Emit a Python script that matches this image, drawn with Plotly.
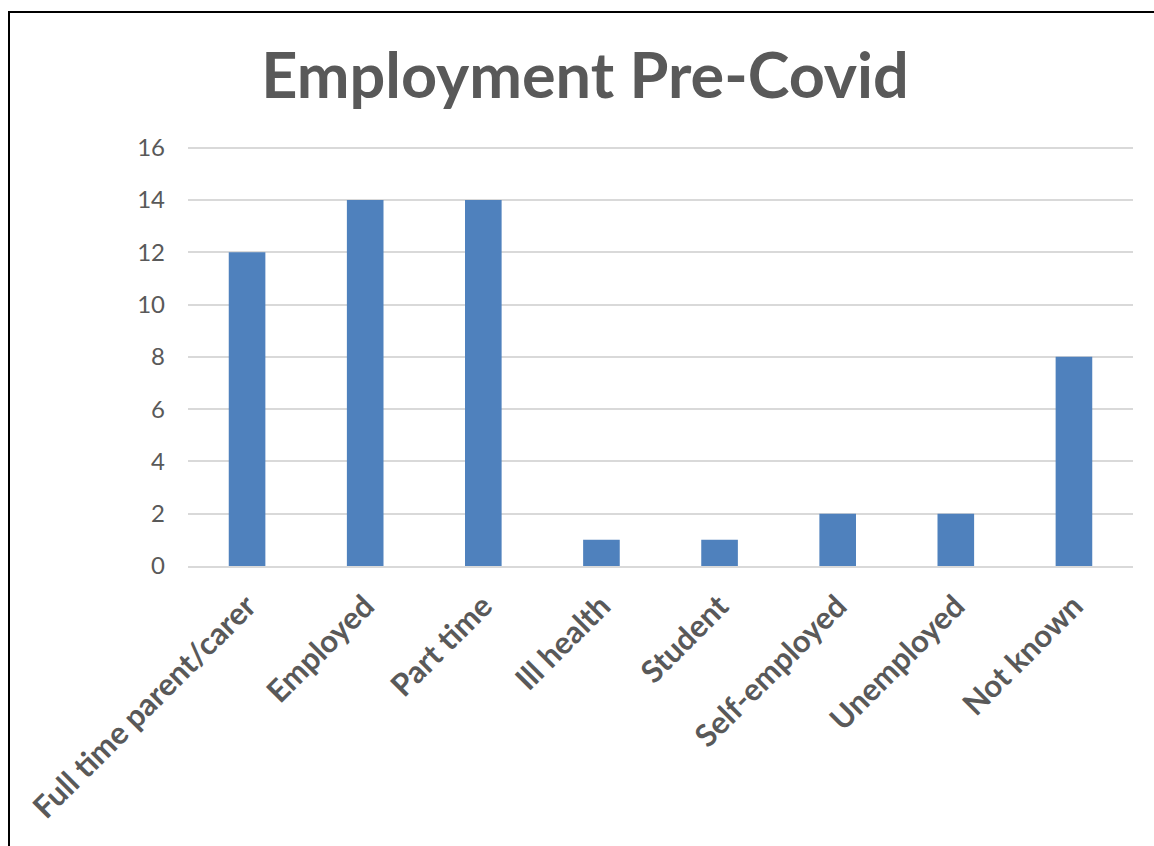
import plotly.graph_objects as go

categories = ["Full time parent/carer", "Employed", "Part time", "Ill health",
              "Student", "Self-employed", "Unemployed", "Not known"]
values = [12, 14, 14, 1, 1, 2, 2, 8]
y_ticks = [0, 2, 4, 6, 8, 10, 12, 14, 16]
y_max = 16.1

W, H = 1154, 846
L, R, B = 188, 21, 280
T = round((H - B) - 418 * y_max / 16)
pw, ph = W - L - R, H - T - B

def px_x(x):
    return (x - L) / pw

def px_y(y):
    return (H - B - y) / ph

fig = go.Figure(go.Bar(
    x=categories, y=values,
    marker=dict(color="#4F81BD", line=dict(width=0)),
    hoverinfo="x+y",
))

fig.update_layout(
    width=W, height=H,
    margin=dict(l=L, r=R, t=T, b=B),
    paper_bgcolor="white", plot_bgcolor="white",
    bargap=0.69,
    showlegend=False,
    title=dict(text="<b>Employment Pre-Covid</b>", xref="container", x=585 / W,
               xanchor="center", yref="container", y=1 - 76 / H, yanchor="middle",
               font=dict(family="Lato", size=63, color="#595959")),
    font=dict(family="Lato", color="#595959"),
    shapes=[dict(type="rect", xref="paper", yref="paper",
                 x0=px_x(9), x1=px_x(1170), y0=px_y(870), y1=px_y(12),
                 line=dict(color="black", width=2), fillcolor="rgba(0,0,0,0)",
                 layer="above")],
)
fig.update_yaxes(range=[0, y_max], tickvals=y_ticks, showgrid=True, gridcolor="#D9D9D9",
                 gridwidth=1.5, zeroline=False, showline=False,
                 ticks="", ticklabelstandoff=22,
                 tickfont=dict(family="Lato", size=24, color="#595959"))
fig.update_xaxes(showline=True, linecolor="#D9D9D9", linewidth=1.5, ticks="",
                 tickangle=-45, ticklabelstandoff=8,
                 tickfont=dict(family="Lato", size=31, color="#595959", weight="bold"))

fig.write_html("out.html")
